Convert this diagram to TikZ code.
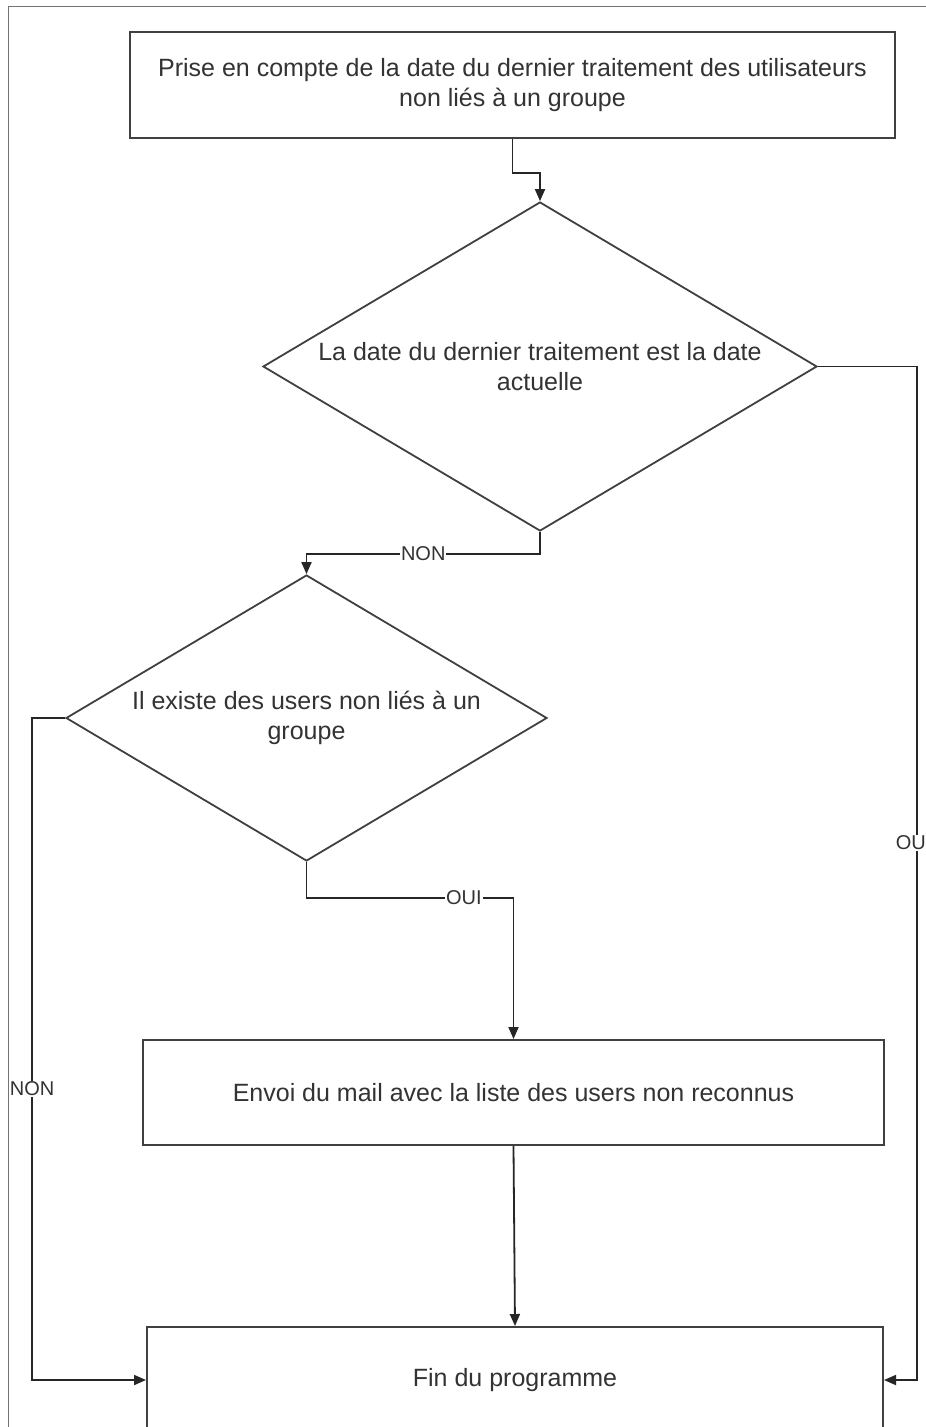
\documentclass[tikz,border=0pt]{standalone}
\usepackage{fontspec}
\setmainfont{Liberation Sans}
\usetikzlibrary{shapes.geometric,arrows.meta}

\tikzset{
	boite/.style={draw=black!75, line width=2pt, rectangle, inner sep=0pt, text=black!80, align=center, font=\fontsize{25}{30}\selectfont},
	losange/.style={draw=black!75, line width=1.8pt, diamond, aspect=1.68, inner sep=0pt, text=black!80, align=center, font=\fontsize{25}{30}\selectfont},
	fleche/.style={draw=black!85, line width=1.8pt, -{Triangle[length=12pt,width=10pt]}},
	etiquette/.style={fill=white, inner sep=1pt, text=black!80, font=\fontsize{20}{20}\selectfont}
}

\begin{document}
\begin{tikzpicture}[x=1pt, y=-1pt]
			%%%%% START %%%%%
			
			\clip (0, 0) rectangle (926, 1427);
			\fill[white] (0, 0) rectangle (926, 1427);
			\draw[line width=1pt, color=black!55] (8, 1440) -- (8, 6) -- (940, 6);
			
			\node[boite, minimum width=765pt, minimum height=106pt] (debut) at (512.5, 85) {Prise en compte de la date du dernier traitement des utilisateurs\\non liés à un groupe};
			
			\node[losange, minimum width=554pt, minimum height=329pt] (datejour) at (540, 366.5) {La date du dernier traitement est la date\\actuelle};
			
			\node[losange, minimum width=481pt, minimum height=286pt] (nonlies) at (306.5, 718) {Il existe des users non liés à un\\groupe};
			
			\node[boite, minimum width=741pt, minimum height=105pt] (envoi) at (513.5, 1092.5) {Envoi du mail avec la liste des users non reconnus};
			
			\node[boite, minimum width=736pt, minimum height=106pt] (fin) at (515, 1380) {Fin du programme};
			
			\draw[fleche] (debut.south) -- ++(0, 34) -| (datejour.north);
			\draw[fleche] (datejour.south) -- ++(0, 22) -| node[pos=0.25, etiquette] {NON} (nonlies.north);
			\draw[fleche] (nonlies.south) -- ++(0, 36) -| node[pos=0.38, etiquette] {OUI} (envoi.north);
			\draw[fleche] (envoi.south) -- (fin.north);
			\draw[fleche] (nonlies.west) -- ++(-33, 0) |- node[pos=0.28, etiquette] {NON} (fin.west);
			\draw[fleche] (datejour.east) -- ++(99, 0) |- node[pos=0.235, etiquette, xshift=-6pt] {OU} (fin.east);
			
			%%%%% END %%%%%
		\end{tikzpicture}
\end{document}
